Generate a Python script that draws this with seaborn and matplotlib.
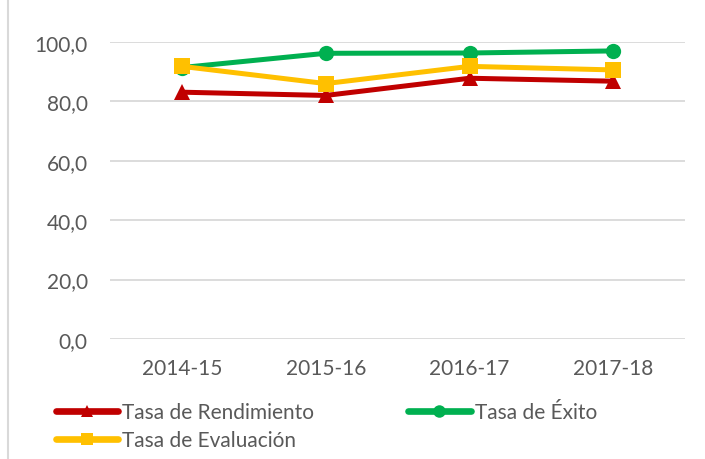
import numpy as np
import pandas as pd
import matplotlib
matplotlib.use("Agg")
import matplotlib.pyplot as plt
from matplotlib.lines import Line2D
import seaborn as sns

# ── Data ─────────────────────────────────────────────────────────────────────
CURSOS = ["2014-15", "2015-16", "2016-17", "2017-18"]
RENDIMIENTO = [83.1, 82.0, 87.8, 86.8]
EXITO = [91.4, 96.2, 96.3, 97.0]
EVALUACION = [91.8, 86.0, 91.8, 90.6]

SERIES = ["Tasa de Rendimiento", "Tasa de Éxito", "Tasa de Evaluación"]
COLORS = {"Tasa de Rendimiento": "#C00000",
          "Tasa de Éxito": "#00B050",
          "Tasa de Evaluación": "#FFC000"}
MARKERS = {"Tasa de Rendimiento": "^",
           "Tasa de Éxito": "o",
           "Tasa de Evaluación": "s"}

df = pd.DataFrame({
    "curso": CURSOS * 3,
    "serie": [SERIES[0]] * 4 + [SERIES[1]] * 4 + [SERIES[2]] * 4,
    "valor": RENDIMIENTO + EXITO + EVALUACION,
})

# ── Plot ─────────────────────────────────────────────────────────────────────
sns.set_theme(style="white")
plt.rcParams["font.family"] = ["Lato", "DejaVu Sans"]
TXT = "#595959"
FS = 15

fig = plt.figure(figsize=(7.05, 4.6), dpi=100)
ax = fig.add_axes([0.156, 0.261, 0.816, 0.6455])

sns.lineplot(data=df, x="curso", y="valor", hue="serie", style="serie",
             hue_order=SERIES, style_order=SERIES, palette=COLORS,
             markers=MARKERS, dashes=False, linewidth=3.6, markersize=11,
             markeredgewidth=0, sort=False, ax=ax, legend=False, clip_on=False)

ax.set_ylim(0, 100)
ax.set_xlim(-0.5, 3.5)
ax.set_yticks(np.arange(0, 101, 20))
ax.set_yticklabels([f"{v:.1f}".replace(".", ",") for v in np.arange(0, 101, 20)])
ax.grid(axis="y", color="#D9D9D9", linewidth=1.3)
ax.set_axisbelow(True)
for s in ax.spines.values():
    s.set_visible(False)
ax.tick_params(axis="both", length=0, labelsize=FS, labelcolor=TXT)
ax.tick_params(axis="x", pad=14)
ax.tick_params(axis="y", pad=16)
ax.set_xlabel("")
ax.set_ylabel("")

# legend: column-major fill, so Rendimiento/Evaluación in col 1, Éxito in col 2
order = ["Tasa de Rendimiento", "Tasa de Evaluación", "Tasa de Éxito"]
handles = [Line2D([], [], color=COLORS[s], marker=MARKERS[s], lw=4.8,
                  markersize=9, markeredgewidth=0, solid_capstyle="round")
           for s in order]
fig.legend(handles, order, ncol=2, loc="upper left",
           bbox_to_anchor=(0.079, 0.124), frameon=False, fontsize=FS,
           labelcolor=TXT, handlelength=3.0, handletextpad=0.2,
           columnspacing=4.5, labelspacing=0.4, borderaxespad=0, borderpad=0)

# light chart border on the left
fig.add_artist(Line2D([0.012, 0.012], [0, 1], color="#D9D9D9", lw=1.5,
                      transform=fig.transFigure))

fig.savefig("out.png", dpi=100)
